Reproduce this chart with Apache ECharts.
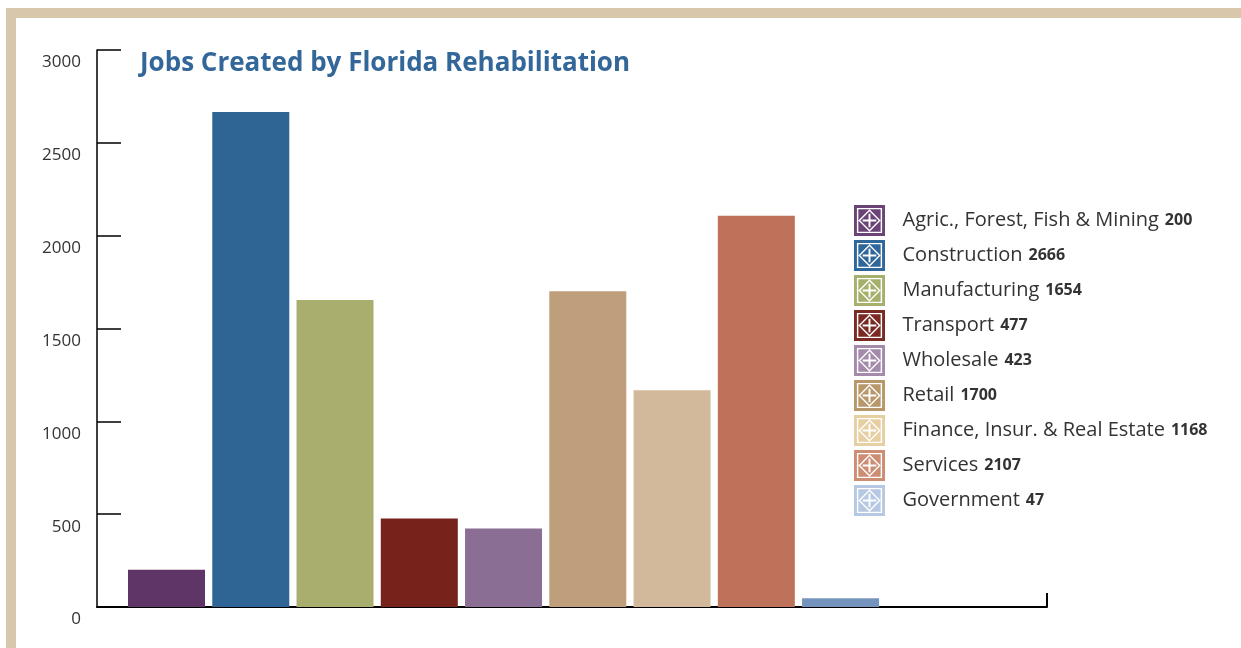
<!DOCTYPE html>
<html>
<head>
	<meta charset="utf-8" />
	<title>Jobs Created by Florida Rehabilitation</title>
	<style type="text/css">
	*{margin: 0;padding: 0;}
	#chart{width: 1241px;height: 648px;background: #fff;}
	</style>
</head>
<body>
<div id="chart"></div>
<script src="https://cdn.jsdelivr.net/npm/echarts@6/dist/echarts.min.js"></script>
<script type="text/javascript">
	// data
	var categories = ['Agric., Forest, Fish & Mining', 'Construction', 'Manufacturing', 'Transport', 'Wholesale',
		'Retail', 'Finance, Insur. & Real Estate', 'Services', 'Government'];
	var jobs = [200, 2666, 1654, 477, 423, 1700, 1168, 2107, 47];
	var yTicks = [0, 500, 1000, 1500, 2000, 2500, 3000];

	var barColors = ['#5e3566', '#2e6594', '#a9ae6f', '#78221c', '#8b6e94', '#bf9f7b', '#d2b99b', '#be725a', '#7494bd'];
	var iconColors = ['#6a4476', '#30679a', '#a6b06c', '#7a2a22', '#a48aab', '#b8976a', '#e6cfa3', '#cc8d72', '#b6c8e2'];

	// square tile with a diamond and cross, holes by winding
	var tileIcon = 'path://M0 0L32 0L32 32L0 32Z' +
		'M3 3L3 29L29 29L29 3Z' +
		'M4.5 4.5L27.5 4.5L27.5 27.5L4.5 27.5Z' +
		'M16 4.5L4.5 16L16 27.5L27.5 16Z' +
		'M16 6.5L25.5 16L16 25.5L6.5 16Z' +
		'M15 9L15 15L9 15L9 17L15 17L15 23L17 23L17 17L23 17L23 15L17 15L17 9Z';

	var series = [], legendData = [];
	for (var i = 0; i < categories.length; i++) {
		series.push({
			name: categories[i],
			type: 'bar',
			barWidth: 77,
			barGap: '-100%',
			itemStyle: {color: barColors[i]},
			data: [[i, jobs[i]]]
		});
		legendData.push({name: categories[i], icon: tileIcon, itemStyle: {color: iconColors[i]}});
	}

	var option = {
		animation: false,
		title: {
			text: 'Jobs Created by Florida Rehabilitation',
			left: 140,
			top: 51,
			padding: 0,
			textStyle: {fontFamily: 'Open Sans', fontWeight: 'bold', fontSize: 26, color: '#336699'}
		},
		legend: {
			orient: 'vertical',
			left: 854,
			top: 205,
			padding: 0,
			itemWidth: 32,
			itemHeight: 31,
			itemGap: 4,
			data: legendData,
			formatter: function (name) {
				return '{n|' + name + '}{v|' + jobs[categories.indexOf(name)] + '}';
			},
			textStyle: {
				padding: [0, 0, 0, 12],
				rich: {
					n: {fontFamily: 'Open Sans', fontSize: 20, color: '#333'},
					v: {fontFamily: 'Open Sans', fontWeight: 'bold', fontSize: 16, color: '#333', padding: [0, 0, 0, 6]}
				}
			}
		},
		grid: {left: 97, right: 194, top: 50, bottom: 41},
		xAxis: {
			type: 'value',
			min: -0.825,
			max: 10.45,
			splitLine: {show: false},
			axisLabel: {show: false},
			axisLine: {show: true, onZero: false, lineStyle: {color: '#000', width: 2}},
			axisTick: {show: true, inside: true, length: 14, customValues: [10.45], lineStyle: {color: '#000', width: 2}}
		},
		yAxis: {
			type: 'value',
			min: yTicks[0],
			max: yTicks[yTicks.length - 1],
			interval: 500,
			splitLine: {show: false},
			axisLine: {show: true, onZero: false, lineStyle: {color: '#000', width: 1.5}},
			axisTick: {show: true, inside: true, length: 24, lineStyle: {color: '#000', width: 1.5}},
			axisLabel: {
				margin: 16,
				fontFamily: 'Open Sans',
				fontSize: 17,
				color: '#333',
				lineHeight: 25,
				formatter: function (v) { return '\n' + v; }
			}
		},
		graphic: [
			{type: 'rect', left: 6, top: 8, shape: {width: 1235, height: 10}, style: {fill: '#d9c7ab'}},
			{type: 'rect', left: 6, top: 8, shape: {width: 10, height: 640}, style: {fill: '#d9c7ab'}}
		],
		series: series
	};

	var chart = echarts.init(document.getElementById('chart'));
	chart.setOption(option);
</script>
</body>
</html>
